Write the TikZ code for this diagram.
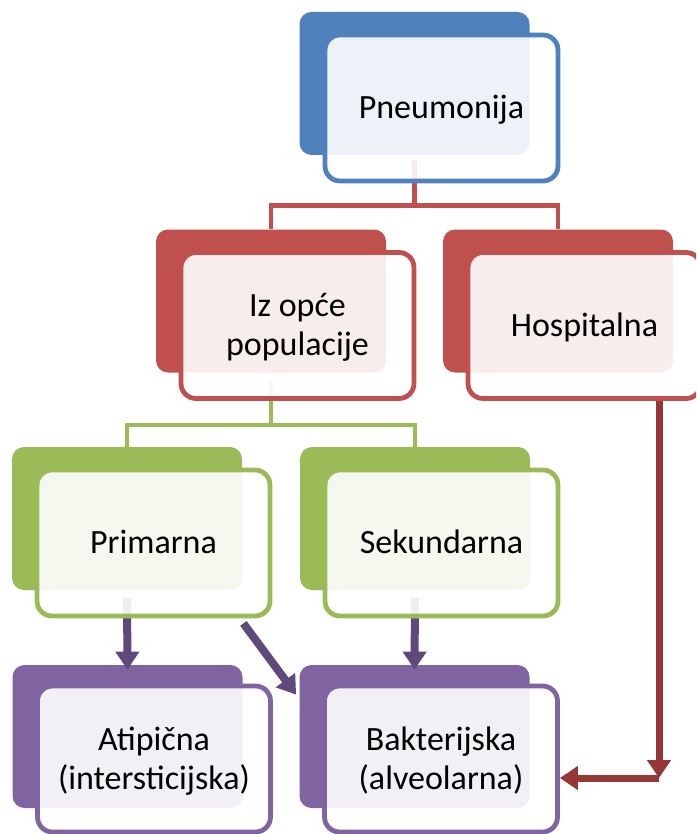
\documentclass[tikz,border=0pt]{standalone}
\usepackage{fontspec}
\setmainfont{Carlito}
\usepackage{tikz}
\usetikzlibrary{arrows.meta,positioning,calc}

\definecolor{pBlue}{HTML}{4F81BD}
\definecolor{pRed}{HTML}{C0504D}
\definecolor{pGreen}{HTML}{9BBB59}
\definecolor{pPurple}{HTML}{8064A2}
\definecolor{pArrowPurple}{HTML}{5F497A}
\definecolor{pArrowRed}{HTML}{953735}

\begin{document}
\begin{tikzpicture}[x=0.5pt,y=-0.5pt,
  backbox/.style={fill=#1,rounded corners=6pt,minimum width=115pt,minimum height=71.5pt,inner sep=0pt},
  frontbox/.style={draw=#1,line width=2.4pt,fill=white,fill opacity=0.9,text opacity=1,
    rounded corners=7.5pt,minimum width=116.5pt,minimum height=73pt,inner sep=0pt,
    align=center,font=\fontsize{17}{19.5}\selectfont,text height=10.9pt,text depth=0pt},
  twolines/.style={text height=30.4pt},
  treeline/.style={draw=#1,line width=2.4pt},
  purplearrow/.style={draw=pArrowPurple,line width=4pt,-{Triangle[length=9pt,width=11.5pt]}},
  redarrow/.style={draw=pArrowRed,line width=3.5pt,-{Triangle[length=9pt,width=11.5pt]}}]
  \clip (0,0) rectangle (696,834);

  % back cards
  \node[backbox=pBlue]   (pneub) at (414.5,83.5) {};
  \node[backbox=pRed]    (izb)   at (271,301) {};
  \node[backbox=pRed]    (hospb) at (558,301) {};
  \node[backbox=pGreen]  (primb) at (127,518.5) {};
  \node[backbox=pGreen]  (sekb)  at (415,518.5) {};
  \node[backbox=pPurple] (atib)  at (127.5,736.5) {};
  \node[backbox=pPurple] (bakb)  at (414.5,736.5) {};

  % tree lines (under the front cards)
  \coordinate (redjoin) at ($(pneub.south)+(0,50)$);
  \draw[treeline=pRed] ($(pneub.south)+(0,5)$) -- (redjoin);
  \draw[treeline=pRed] (izb.north) |- (redjoin) -| (hospb.north);
  \coordinate (greenjoin) at ($(izb.south)+(0,52)$);
  \draw[treeline=pGreen] ($(izb.south)+(0,7)$) -- (greenjoin);
  \draw[treeline=pGreen] (primb.north) |- (greenjoin) -| (sekb.north);

  % arrows to the types
  \draw[purplearrow] ($(primb.south)+(0,7)$) -- ($(atib.north)+(0,5)$);
  \draw[purplearrow] ($(sekb.south)+(0,7)$) -- ($(bakb.north)+(0,5)$);

  % front cards
  \node[frontbox=pBlue]   (pneuf) at ($(pneub)+(27,24.5)$) {Pneumonija};
  \node[frontbox=pRed,twolines] (izf) at ($(izb)+(26.5,24.5)$) {Iz opće\\populacije};
  \node[frontbox=pRed]    (hospf) at ($(hospb)+(26.5,24.5)$) {Hospitalna};
  \node[frontbox=pGreen]  (primf) at ($(primb)+(26.5,24.5)$) {Primarna};
  \node[frontbox=pGreen]  (sekf)  at ($(sekb)+(26.5,24.5)$) {Sekundarna};
  \node[frontbox=pPurple,twolines] (atif) at ($(atib)+(26.5,22.5)$) {Atipična\\(intersticijska)};
  \node[frontbox=pPurple,twolines] (bakf) at ($(bakb)+(26.5,22.5)$) {Bakterijska\\(alveolarna)};

  % Primarna -> Bakterijska
  \draw[purplearrow] ($(primf.south east)+(-29,5)$) -- ($(bakb.north west)+(-3,30)$);
  % Hospitalna -> Bakterijska (elbow)
  \coordinate (hospbend) at (659,778);
  \draw[redarrow] (hospf.south -| hospbend) -- (hospbend);
  \draw[redarrow] (hospbend) -- (bakf.east |- hospbend);
\end{tikzpicture}
\end{document}
